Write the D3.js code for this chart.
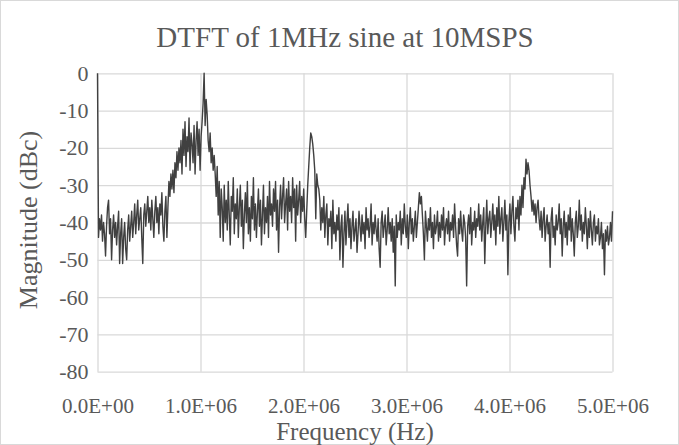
<!DOCTYPE html>
<html><head><meta charset="utf-8">
<script src="https://cdn.jsdelivr.net/npm/d3@7"></script>
<style>html,body{margin:0;padding:0;background:#fff}svg{display:block}</style>
</head><body>
<svg id="chart" width="679" height="445"></svg>
<script>
const title = "DTFT of 1MHz sine at 10MSPS";
const xTitle = "Frequency (Hz)";
const yTitle = "Magnitude (dBc)";
const xTicks = [0, 1e6, 2e6, 3e6, 4e6, 5e6];
const xTickLabels = ["0.0E+00","1.0E+06","2.0E+06","3.0E+06","4.0E+06","5.0E+06"];
const yTicks = [0,-10,-20,-30,-40,-50,-60,-70,-80];
const yTickLabels = ["0","-10","-20","-30","-40","-50","-60","-70","-80"];
const fMax = 5e6;
// magnitude (dBc) per frequency bin, 0 .. 5 MHz
const magnitude = [
0,-44,-39,-42,-38,-45,-40,-43,-49,-41,-36,-34,-43,-39,-50,-42,-38,-44,-40,-46,
-41,-37,-51,-43,-39,-51,-44,-40,-47,-50,-42,-38,-45,-41,-37,-44,-40,-35,-43,-38,
-34,-42,-39,-36,-44,-51,-38,-35,-41,-37,-33,-40,-36,-42,-34,-39,-44,-37,-33,-40,
-36,-43,-35,-38,-32,-41,-45,-37,-33,-44,-36,-29,-33,-27,-31,-26,-32,-24,-28,-21,
-26,-20,-24,-18,-27,-15,-22,-13,-25,-17,-21,-12,-26,-16,-19,-24,-14,-27,-18,-13,
-22,-15,-26,-17,-13,-8,0,-14,-7,-11,-18,-21,-16,-24,-20,-26,-22,-27,-33,-25,
-38,-29,-44,-31,-36,-45,-30,-40,-34,-42,-29,-38,-46,-33,-37,-28,-43,-35,-39,-31,
-44,-36,-30,-41,-34,-47,-38,-32,-40,-29,-43,-36,-45,-33,-39,-28,-42,-35,-44,-37,
-31,-41,-34,-46,-38,-30,-43,-36,-40,-33,-44,-29,-38,-35,-41,-31,-37,-29,-42,-34,
-48,-36,-30,-39,-33,-28,-40,-35,-31,-42,-29,-37,-33,-40,-28,-36,-31,-45,-30,-38,
-34,-29,-40,-33,-37,-31,-39,-44,-37,-30,-25,-20,-16,-17,-19,-22,-26,-39,-27,-30,
-31,-34,-42,-36,-40,-33,-44,-38,-35,-46,-39,-41,-37,-47,-34,-43,-40,-45,-38,-42,
-36,-50,-41,-38,-52,-43,-37,-46,-40,-35,-44,-39,-47,-41,-37,-45,-42,-39,-48,-43,
-37,-41,-45,-38,-43,-40,-47,-36,-42,-39,-44,-41,-35,-46,-40,-43,-38,-42,-45,-39,
-47,-52,-40,-37,-44,-41,-38,-46,-42,-36,-43,-40,-45,-39,-48,-41,-57,-38,-44,-40,
-42,-37,-46,-39,-43,-35,-41,-44,-38,-47,-40,-36,-43,-39,-45,-41,-37,-44,-40,-36,
-32,-35,-33,-38,-43,-50,-37,-41,-45,-39,-42,-36,-44,-40,-47,-38,-43,-41,-37,-45,
-40,-44,-38,-42,-36,-46,-41,-39,-43,-37,-45,-40,-42,-38,-44,-35,-41,-46,-49,-39,
-43,-37,-42,-45,-38,-40,-44,-57,-41,-38,-43,-36,-46,-40,-42,-37,-44,-39,-41,-35,
-42,-38,-45,-40,-36,-51,-41,-34,-43,-39,-37,-44,-40,-35,-42,-38,-46,-36,-41,-33,
-43,-39,-36,-45,-40,-34,-42,-38,-54,-40,-35,-43,-37,-33,-41,-45,-36,-39,-34,-42,
-33,-38,-30,-36,-28,-31,-23,-27,-24,-26,-30,-33,-37,-34,-38,-35,-40,-36,-34,-39,
-42,-37,-44,-39,-36,-45,-41,-38,-43,-40,-52,-39,-36,-44,-41,-46,-38,-42,-40,-35,
-43,-39,-49,-41,-37,-44,-40,-46,-38,-42,-36,-45,-39,-43,-49,-40,-37,-44,-41,-34,
-42,-38,-45,-40,-43,-36,-41,-47,-39,-44,-37,-42,-46,-40,-38,-45,-41,-43,-39,-46,
-44,-40,-47,-43,-54,-42,-45,-41,-46,-44,-40,-45,-37
];
const freqStep = fMax / (magnitude.length - 1);
const data = magnitude.map((v, i) => ({f: i * freqStep, v}));

const svg = d3.select("#chart");
const W = 679, H = 445;
const m = {left: 97.5, right: W - 612.5, top: 73.3, bottom: H - 371.7};
const x = d3.scaleLinear().domain([0, fMax]).range([m.left, W - m.right]);
const y = d3.scaleLinear().domain([-80, 0]).range([H - m.bottom, m.top]);
const textCol = "#595959";
const FONT = '"Liberation Serif"';

svg.append("rect").attr("x",0.5).attr("y",0.5).attr("width",W-1).attr("height",H-1)
  .attr("fill","#fff").attr("stroke","#d9d9d9");

// gridlines
svg.append("g").call(d3.axisLeft(y).tickValues(yTicks).tickSize(-(x.range()[1]-x.range()[0])).tickFormat(""))
  .attr("transform", `translate(${m.left},0)`)
  .call(g => g.select(".domain").remove())
  .call(g => g.selectAll("line").attr("stroke","#d9d9d9").attr("stroke-width",1.3));
svg.append("g").call(d3.axisBottom(x).tickValues(xTicks).tickSize(-(y.range()[0]-y.range()[1])).tickFormat(""))
  .attr("transform", `translate(0,${H - m.bottom})`)
  .call(g => g.select(".domain").remove())
  .call(g => g.selectAll("line").attr("stroke","#d9d9d9").attr("stroke-width",1.3));

// tick labels
const yAx = svg.append("g").attr("transform", `translate(${m.left},0)`)
  .call(d3.axisLeft(y).tickValues(yTicks).tickSize(0).tickPadding(9).tickFormat((d,i)=>yTickLabels[i]));
yAx.select(".domain").remove();
yAx.selectAll("text").style("font-family",FONT).style("font-size","22px").attr("fill",textCol);
const xAx = svg.append("g").attr("transform", `translate(0,${H - m.bottom})`)
  .call(d3.axisBottom(x).tickValues(xTicks).tickSize(0).tickPadding(26).tickFormat((d,i)=>xTickLabels[i]));
xAx.select(".domain").remove();
xAx.selectAll("text").style("font-family",FONT).style("font-size","21px").attr("fill",textCol);

// line
svg.append("path").datum(data)
  .attr("d", d3.line().x(d => x(d.f)).y(d => y(d.v)))
  .attr("fill","none").attr("stroke","#404040").attr("stroke-width",1.4).attr("stroke-linejoin","round");

// titles
svg.append("text").attr("x",345).attr("y",47).attr("text-anchor","middle")
  .style("font-family",FONT).style("font-size","29px").attr("fill",textCol).text(title);
svg.append("text").attr("x",355).attr("y",440).attr("text-anchor","middle")
  .style("font-family",FONT).style("font-size","25px").attr("fill",textCol).text(xTitle);
svg.append("text").attr("transform","translate(37,220) rotate(-90)").attr("text-anchor","middle")
  .style("font-family",FONT).style("font-size","26px").attr("fill",textCol).text(yTitle);
</script>
</body></html>
